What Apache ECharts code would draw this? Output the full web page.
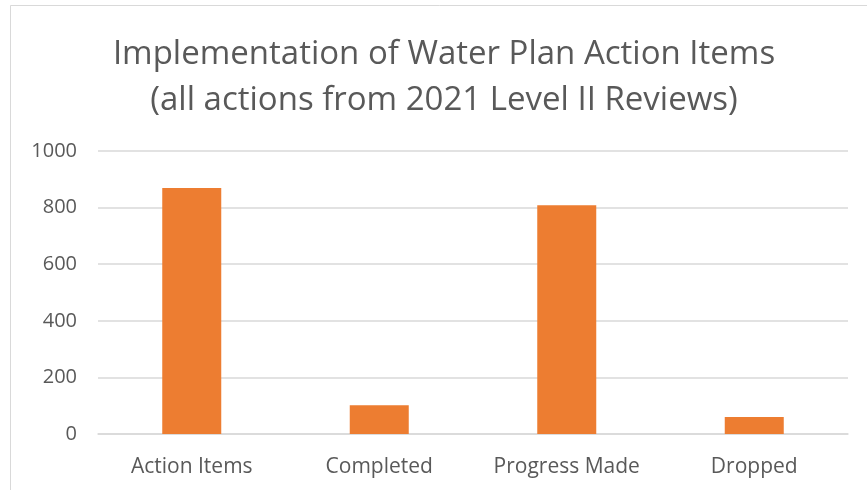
<!DOCTYPE html>
<html>
<head>
<meta charset="utf-8">
<script src="https://cdn.jsdelivr.net/npm/echarts@6/dist/echarts.min.js"></script>
<style>
  html, body { margin: 0; padding: 0; background: #fff; }
  #chart { width: 867px; height: 490px; }
</style>
</head>
<body>
<div id="chart"></div>
<script>
const categories = ['Action Items', 'Completed', 'Progress Made', 'Dropped'];
const counts = [869, 102, 808, 60];
const titleLines = ['Implementation of Water Plan Action Items', '(all actions from 2021 Level II Reviews)'];

const textColor = '#595959';
const fontFamily = '"Open Sans", "Noto Sans", sans-serif';

const myChart = echarts.init(document.getElementById('chart'));
myChart.setOption({
    animation: false,
    backgroundColor: '#fff',
    graphic: [{
        type: 'rect',
        shape: { x: 10.5, y: 5.5, width: 900, height: 520 },
        style: { fill: 'none', stroke: '#d9d9d9', lineWidth: 1 },
        silent: true
    }],
    title: {
        text: titleLines.join('\n'),
        left: 439,
        textAlign: 'center',
        top: 27,
        textStyle: {
            fontFamily: fontFamily,
            fontWeight: 'normal',
            fontSize: 33,
            lineHeight: 46,
            color: textColor
        }
    },
    grid: {
        left: 98,
        right: 19,
        top: 151,
        bottom: 56,
        containLabel: false
    },
    xAxis: {
        type: 'category',
        data: categories,
        axisTick: { show: false },
        axisLine: { lineStyle: { color: '#d9d9d9', width: 1.5 } },
        axisLabel: {
            interval: 0,
            color: textColor,
            fontFamily: fontFamily,
            fontSize: 21,
            margin: 23
        }
    },
    yAxis: {
        type: 'value',
        min: 0,
        max: 1000,
        interval: 200,
        axisLine: { show: false },
        axisTick: { show: false },
        splitLine: { lineStyle: { color: '#d9d9d9', width: 1.5 } },
        axisLabel: {
            color: textColor,
            fontFamily: fontFamily,
            fontSize: 20,
            margin: 21,
            formatter: function (v) { return String(v); }
        }
    },
    series: [{
        type: 'bar',
        data: counts,
        barWidth: 59,
        itemStyle: { color: '#ed7d31' }
    }]
});
</script>
</body>
</html>
